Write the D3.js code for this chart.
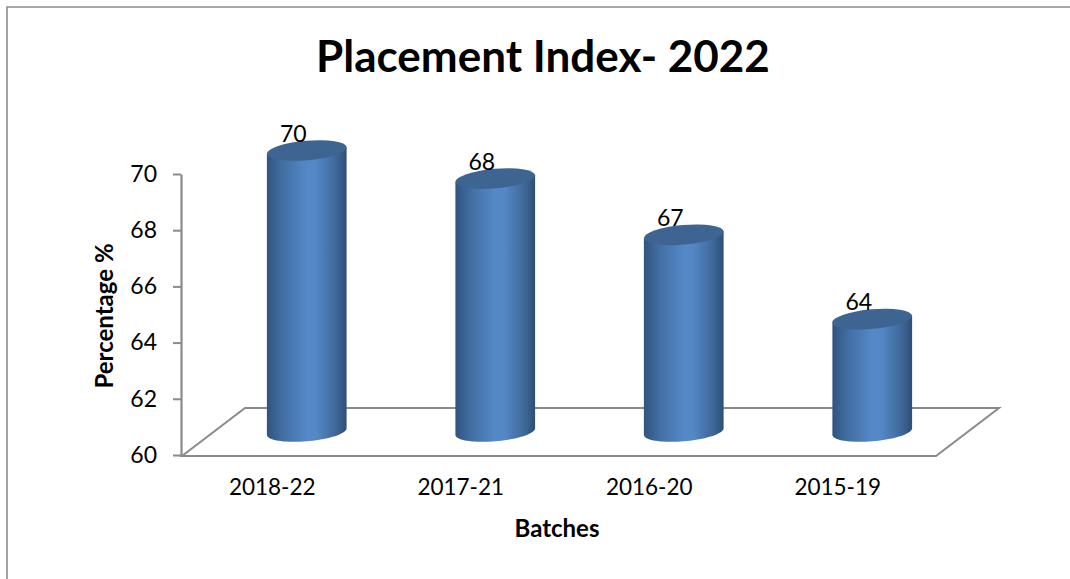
<!DOCTYPE html>
<html>
<head>
<meta charset="utf-8">
<script src="https://cdn.jsdelivr.net/npm/d3@7"></script>
<style>
  html, body { margin: 0; background: #fff; }
  svg { display: block; font-family: Lato, "Open Sans", sans-serif; }
</style>
</head>
<body>
<div id="chart"></div>
<script>
const batches = ["2018-22", "2017-21", "2016-20", "2015-19"];
// drawn column heights (the second column stands at about 69)
const columnHeights = [70, 69, 67, 64];
// printed labels, the second one differs from its column in the original
const valueLabels = ["70", "68", "67", "64"];
const yTicks = [60, 62, 64, 66, 68, 70];

const width = 1070, height = 579;
const grey = "#8a8a8a";

const svg = d3.select("#chart").append("svg")
  .attr("width", width)
  .attr("height", height);

const x = d3.scaleBand().domain(batches).range([178, 932]).paddingInner(0.58).paddingOuter(0.29);
const y = d3.scaleLinear().domain([60, 70]).range([455, 174]);

// column side shading
const defs = svg.append("defs");
const grad = defs.append("linearGradient").attr("id", "cyl");
[[0, "#30547f"], [0.2, "#426fa3"], [0.5, "#5488c8"], [0.62, "#5387c5"], [0.85, "#406a9c"], [1, "#2e4f76"]]
  .forEach(([o, c]) => grad.append("stop").attr("offset", o).attr("stop-color", c));

// frame
svg.append("path")
  .attr("d", `M7,${height}V7H${width}`)
  .attr("fill", "none")
  .attr("stroke", "#8c8c8c")
  .attr("stroke-width", 1.6);

// floor of the 3d plot
const depthX = 63, depthY = -48;
const floorLeft = 182, floorRight = 936, floorY = 456;
svg.append("path")
  .attr("d", `M${floorLeft},${floorY}L${floorLeft + depthX},${floorY + depthY}H${floorRight + depthX}L${floorRight},${floorY}Z`)
  .attr("fill", "none")
  .attr("stroke", grey)
  .attr("stroke-width", 2);

// y axis
const yAxis = svg.append("g")
  .attr("transform", "translate(181,0)")
  .call(d3.axisLeft(y).tickValues(yTicks).tickSize(8).tickPadding(16).tickSizeOuter(0));
yAxis.select(".domain").attr("stroke", grey).attr("stroke-width", 2.2);
yAxis.selectAll("line").attr("stroke", grey).attr("stroke-width", 2);
yAxis.selectAll("text").attr("font-size", 23).attr("fill", "#000").attr("font-family", "Lato");

// x axis labels sit on the front edge of the floor
const xAxis = svg.append("g")
  .attr("transform", "translate(0,456)")
  .call(d3.axisBottom(x).tickSize(0).tickPadding(23));
xAxis.select(".domain").remove();
xAxis.selectAll("text").attr("font-size", 22.5).attr("fill", "#000").attr("font-family", "Lato");

// columns
const rx = 40, ry = 9.8, tilt = -5;
const rad = tilt * Math.PI / 180;
const t0 = Math.atan(-(ry / rx) * Math.tan(rad));
const rimPoint = s => [
  rx * Math.cos(s) * Math.cos(rad) - ry * Math.sin(s) * Math.sin(rad),
  rx * Math.cos(s) * Math.sin(rad) + ry * Math.sin(s) * Math.cos(rad)
];
// front half of the rim, right side round to left side
const frontRim = d3.range(0, 41).map(i => rimPoint(t0 + Math.PI * i / 40));
const shiftX = 34.5, shiftY = -23.5;
const outline = d3.line();

const cols = svg.selectAll(".col")
  .data(batches.map((b, i) => ({ batch: b, h: columnHeights[i], label: valueLabels[i] })))
  .join("g")
  .attr("class", "col")
  .attr("transform", d => `translate(${x(d.batch) + x.bandwidth() / 2 + shiftX},${shiftY})`);

cols.append("path")
  .attr("d", d => {
    const topY = y(d.h), baseY = y(60);
    const bottom = frontRim.map(p => [p[0], p[1] + baseY]);
    const first = frontRim[0], last = frontRim[frontRim.length - 1];
    return outline([[first[0], first[1] + topY], ...bottom, [last[0], last[1] + topY]]) + "Z";
  })
  .attr("fill", "url(#cyl)");

cols.append("ellipse")
  .attr("rx", rx)
  .attr("ry", ry)
  .attr("transform", d => `translate(0,${y(d.h)}) rotate(${tilt})`)
  .attr("fill", "#3e6592");

// printed values sit up and to the left of each column
cols.append("text")
  .attr("x", -13.5)
  .attr("y", d => y(d.h) - 9)
  .attr("text-anchor", "middle")
  .attr("font-size", 23)
  .attr("fill", "#000")
  .text(d => d.label);

// title and axis titles
svg.append("text")
  .attr("x", 543)
  .attr("y", 72)
  .attr("text-anchor", "middle")
  .attr("font-size", 44)
  .attr("font-weight", 700)
  .attr("fill", "#000")
  .text("Placement Index- 2022");

svg.append("text")
  .attr("x", 557)
  .attr("y", 537)
  .attr("text-anchor", "middle")
  .attr("font-size", 24)
  .attr("font-weight", 700)
  .attr("fill", "#000")
  .text("Batches");

svg.append("text")
  .attr("transform", "translate(113,316) rotate(-90)")
  .attr("text-anchor", "middle")
  .attr("font-size", 24)
  .attr("font-weight", 700)
  .attr("fill", "#000")
  .text("Percentage %");
</script>
</body>
</html>
